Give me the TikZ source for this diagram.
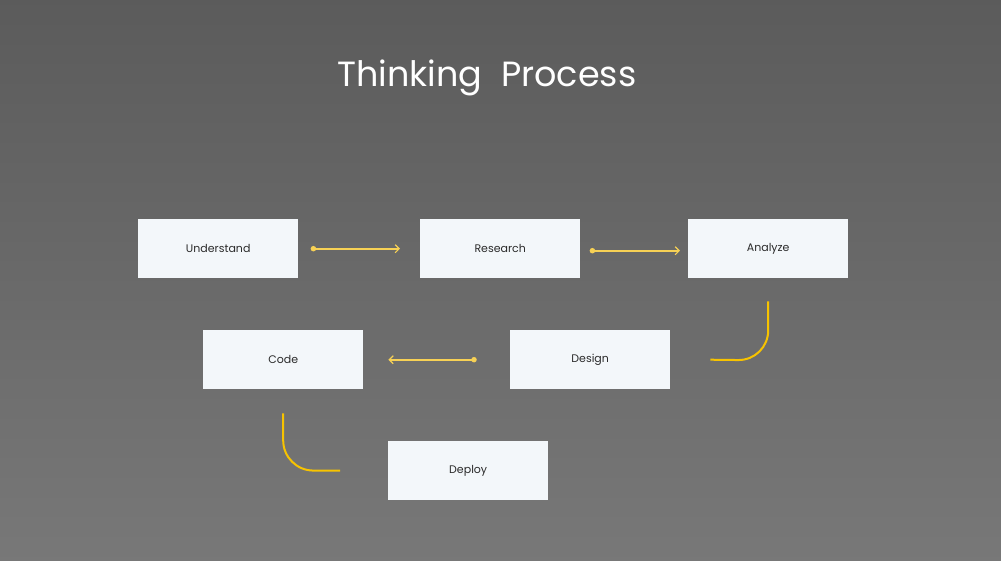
\documentclass[tikz,border=0pt]{standalone}
\usepackage{fontspec}
\setmainfont{Poppins}
\usetikzlibrary{arrows.meta}
\definecolor{bgtop}{HTML}{5B5B5B}
\definecolor{bgbot}{HTML}{787878}
\definecolor{boxfill}{HTML}{F3F7FA}
\definecolor{arrowyel}{HTML}{F7D155}
\definecolor{curveyel}{HTML}{F7C300}
\definecolor{txt}{HTML}{2B2B2B}
\begin{document}
\begin{tikzpicture}[x=1pt,y=-1pt,
  stepbox/.style={fill=boxfill,draw=none,minimum width=160pt,minimum height=59pt,inner sep=0pt,anchor=north west,font=\fontsize{11}{13}\selectfont,text=txt},
  flowarrow/.style={draw=arrowyel,line width=1.8pt,-{Straight Barb[length=4pt,width=8pt,line width=1.2pt]}},
  flowcurve/.style={draw=curveyel,line width=2pt,rounded corners=30pt},
  startdot/.style={circle,fill=arrowyel,inner sep=0pt,minimum size=5.5pt}
]
\useasboundingbox (0,0) rectangle (1001,560);
\begin{scope}
\clip (0,0) rectangle (1001,560);
\shade[top color=bgtop,bottom color=bgbot] (-5,-5) rectangle (1006,566);
\end{scope}
\node[text=white,font=\fontsize{35}{40}\selectfont] (title) at (487,78) {Thinking\ \ Process};

\node[stepbox] (understand) at (138,219) {Understand};
\node[stepbox] (research) at (420,219) {Research};
\node[stepbox] (analyze) at (688,219) {Analyze};
\node[stepbox] (code) at (203,330) {Code};
\node[stepbox] (design) at (510,330) {Design};
\node[stepbox] (deploy) at (388,441) {Deploy};

\coordinate (a1s) at ([xshift=15pt]understand.east);
\coordinate (a1e) at ([xshift=-20pt]research.west);
\node[startdot] (d1) at (a1s) {};
\draw[flowarrow] (d1.center) -- (a1e);

\coordinate (a2s) at ([xshift=12pt,yshift=-2pt]research.east);
\coordinate (a2e) at ([xshift=-8pt,yshift=-2pt]analyze.west);
\node[startdot] (d2) at (a2s) {};
\draw[flowarrow] (d2.center) -- (a2e);

\coordinate (c1s) at ([yshift=-23pt]analyze.south);
\coordinate (c1m) at ([yshift=-82pt]analyze.south);
\coordinate (c1e) at ([xshift=40pt]design.east);
\draw[flowcurve] (c1s) -- (c1m) -- (c1e);

\coordinate (a3s) at ([xshift=-36pt]design.west);
\coordinate (a3e) at ([xshift=25pt]code.east);
\node[startdot] (d3) at (a3s) {};
\draw[flowarrow] (d3.center) -- (a3e);

\coordinate (c2s) at ([yshift=-24pt]code.south);
\coordinate (c2m) at ([yshift=-81pt]code.south);
\coordinate (c2e) at ([xshift=-48pt]deploy.west);
\draw[flowcurve] (c2s) -- (c2m) -- (c2e);
\end{tikzpicture}
\end{document}
